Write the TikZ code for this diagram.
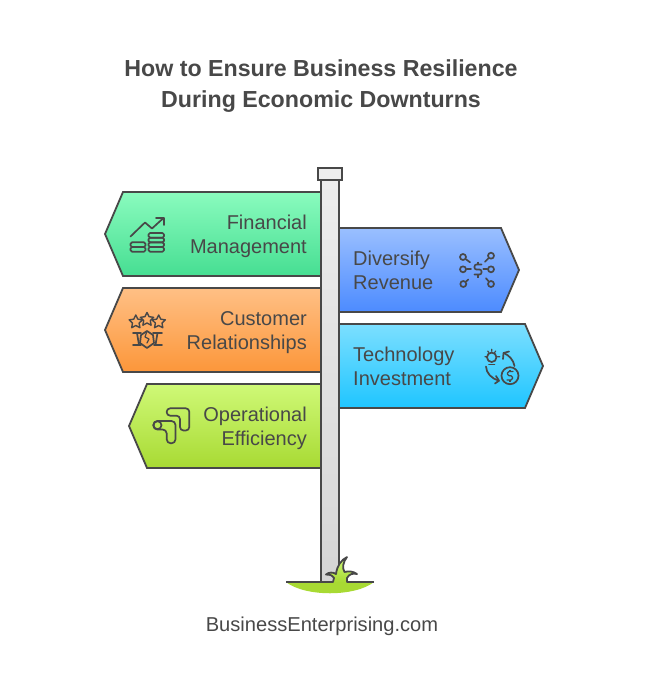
\documentclass[tikz,border=0pt]{standalone}
\usepackage{fontspec}
\setmainfont{Liberation Sans}
\usetikzlibrary{positioning}
\usetikzlibrary{shapes.geometric}

\definecolor{ink}{HTML}{484848}
\definecolor{greentop}{HTML}{8AFBBE}
\definecolor{greenbot}{HTML}{46DE92}
\definecolor{orangetop}{HTML}{FFC085}
\definecolor{orangebot}{HTML}{FC963A}
\definecolor{limetop}{HTML}{CFF977}
\definecolor{limebot}{HTML}{A8DA33}
\definecolor{bluetop}{HTML}{9ABFFF}
\definecolor{bluebot}{HTML}{4C8BFF}
\definecolor{cyantop}{HTML}{7CDFFF}
\definecolor{cyanbot}{HTML}{1FC5FF}
\definecolor{poletop}{HTML}{EDEDED}
\definecolor{polebot}{HTML}{D5D5D5}
\tikzset{
  x=1pt, y=-1pt,
  sign/.style={draw=ink, line width=1.8pt, line join=miter},
  icon/.style={draw=ink, line width=1.7pt, line join=round, line cap=round},
  labeltext/.style={inner sep=0, text=ink, font=\fontsize{20}{24}\selectfont},
  pricetick/.style={icon, line cap=butt}
}

\begin{document}
\begin{tikzpicture}
  \useasboundingbox (0,0) rectangle (648,696);

  \node[inner sep=0, text=ink, align=center, font=\fontsize{23.2}{31}\selectfont\bfseries] (Title) at (321,86.5)
    {How to Ensure Business Resilience\\During Economic Downturns};

  \path[sign, top color=greentop, bottom color=greenbot] (321,192) -- (123,192) -- (105,234) -- (123,276) -- (321,276);
  \path[sign, top color=orangetop, bottom color=orangebot] (321,288) -- (123,288) -- (105,330) -- (123,372) -- (321,372);
  \path[sign, top color=limetop, bottom color=limebot] (321,384) -- (147,384) -- (129,426) -- (147,468) -- (321,468);
  \path[sign, top color=bluetop, bottom color=bluebot] (339,228) -- (501,228) -- (519,270) -- (501,312) -- (339,312);
  \path[sign, top color=cyantop, bottom color=cyanbot] (339,324) -- (525,324) -- (543,366) -- (525,408) -- (339,408);

  \node[labeltext, align=right, anchor=east] (Financial) at (307,236.5) {Financial\\Management};
  \node[labeltext, align=right, anchor=east] (Customer) at (307,332.5) {Customer\\Relationships};
  \node[labeltext, align=right, anchor=east] (Operational) at (307,428.5) {Operational\\Efficiency};
  \node[labeltext, align=left, anchor=west] (Diversify) at (353,270) {Diversify\\Revenue};
  \node[labeltext, align=left, anchor=west] (Technology) at (353,366) {Technology\\Investment};

  \path[sign, top color=poletop, bottom color=polebot] (321,180) rectangle (339,582);
  \path[sign, fill=poletop] (318,168) rectangle (342,180);

  \fill[limebot] (286,582) .. controls (305,597) and (355,597) .. (374,582) -- cycle;
  \draw[sign] (286,582) -- (333,582);
  \draw[sign] (347,582) -- (374,582);
  \path[icon, line width=1.8pt, top color=limetop, bottom color=limebot] (333,582) -- (334,578) .. controls (332,575) and (329,574) .. (326,574.5)
    .. controls (329,572) and (333,572) .. (336,574) .. controls (337,566) and (341,560) .. (347,557)
    .. controls (343,562) and (342,568) .. (344.5,572) .. controls (348,571) and (353,571) .. (357,574)
    .. controls (353,573) and (349,574) .. (347,578) -- (347,582);

  \node[inner sep=0, text=ink, font=\fontsize{20.1}{24}\selectfont] (Site) at (322,626) {BusinessEnterprising.com};

  \draw[icon] (130.5,236.5) -- (145,222.5) -- (152,228.5) -- (163.5,218);
  \draw[icon] (156,217.7) -- (164,217.7) -- (164,225);
  \foreach \y in {242.3,247} {
    \draw[icon, rounded corners=1.5pt] (130.5,\y) rectangle (145.5,\y+4.7);
  }
  \foreach \y in {233,237.7,242.3,247} {
    \draw[icon, rounded corners=1.5pt] (148.5,\y) rectangle (164,\y+4.7);
  }

  \foreach \x/\y/\n in {135.8/322/a, 147/319.5/b, 158.7/322/c} {
    \node[icon, star, star points=5, star point ratio=2, minimum size=14pt, inner sep=0, line width=1.4pt] (Star\n) at (\x,\y) {};
  }
  \draw[icon] (133,333) -- (141,333) (137,333) -- (139,345) (133,345) -- (141,345);
  \draw[icon] (153,333) -- (162,333) (157.5,333) -- (155.5,345) (154,345) -- (162,345);
  \draw[icon] (141,335) -- (147,331) -- (153,335) -- (154,343) -- (147,348) -- (140,343) -- cycle;
  \draw[icon, line width=1.2pt] (147,331) -- (145,337) -- (149,339) -- (147,343);

  \draw[icon, rounded corners=3.5pt] (166.7,408.3) -- (189.3,408.3) -- (189.3,430.5) -- (180,430.5) -- (180,415.7) -- (166.7,415.7) -- cycle;
  \draw[icon, rounded corners=4pt] (153.3,421) -- (175.5,421) -- (175.5,443.3) -- (166.7,443.3) -- (166.7,429.5) -- (153.3,429.5) -- cycle;
  \node[icon, circle, minimum size=8pt, inner sep=0] (Pill) at (157.5,425.2) {};

  \foreach \x/\y/\n in {463/257/a, 463/269.3/b, 463.3/284/c, 491/255.7/d, 491/269.3/e, 491/284/f} {
    \node[icon, circle, minimum size=6pt, inner sep=0] (Dot\n) at (\x,\y) {};
  }
  \draw[icon] (Dota) -- (470,262.3);
  \draw[icon] (Dotb) -- (471,269.3);
  \draw[icon] (Dotc) -- (468.3,279.5);
  \draw[icon] (Dotd) -- (485,261.7);
  \draw[icon] (Dote) -- (483.3,269.3);
  \draw[icon] (Dotf) -- (486,278.3);
  \draw[icon, rounded corners=2pt] (481.5,264.5) -- (474.5,264.5) -- (474.5,269.5) -- (481.5,269.5) -- (481.5,274.5) -- (474.5,274.5);
  \draw[pricetick] (478,261.5) -- (478,264.5) (478,274.5) -- (478,277.5);

  \node[icon, circle, minimum size=9.5pt, inner sep=0] (Bulb) at (491.7,357.3) {};
  \draw[icon] (489,364.5) -- (494.5,364.5);
  \draw[icon, line width=1.2pt] (485,356.7) -- (487,356.7) (487.7,351) -- (489,352.7) (491.7,349.3) -- (491.7,351.3) (495.7,351) -- (494.5,352.7) (497.5,356.7) -- (499.7,356.7);
  \node[icon, circle, minimum size=17pt, inner sep=0] (Coin) at (510,375.7) {};
  \draw[icon, line width=1.2pt, rounded corners=1.5pt] (513,371.5) -- (507.5,371.5) -- (507.5,375.7) -- (512.5,375.7) -- (512.5,380) -- (507,380);
  \draw[pricetick, line width=1.2pt] (510,369.5) -- (510,371.5) (510,380) -- (510,382);
  \draw[icon] (514.5,366) .. controls (513.5,360) and (509,355) .. (503.5,353);
  \draw[icon] (503,359) -- (503.5,353) -- (509,351.5);
  \draw[icon] (486,366.5) .. controls (486,373) and (492,379) .. (499,380.7);
  \draw[icon] (495,383.5) -- (499,380.7) -- (496,376);
\end{tikzpicture}
\end{document}
